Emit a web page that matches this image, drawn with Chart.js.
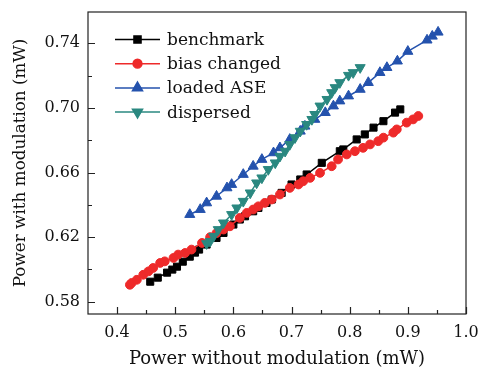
<!DOCTYPE html>
<html>
<head>
<meta charset="utf-8">
<script src="https://cdn.jsdelivr.net/npm/chart.js@4.4.1/dist/chart.umd.min.js"></script>
<style>
  html, body { margin: 0; padding: 0; background: #fff; }
</style>
</head>
<body>
<canvas id="myChart" width="478" height="370"></canvas>
<script>
// values
const benchmarkX = [0.457, 0.470, 0.486, 0.495, 0.503, 0.513, 0.525, 0.534, 0.541, 0.554, 0.571, 0.583, 0.600, 0.611, 0.620, 0.634, 0.643, 0.657, 0.666, 0.683, 0.700, 0.715, 0.726, 0.752, 0.783, 0.789, 0.812, 0.826, 0.841, 0.858, 0.878, 0.887];
const benchmarkY = [0.5924, 0.5949, 0.5980, 0.5999, 0.6017, 0.6048, 0.6079, 0.6104, 0.6123, 0.6154, 0.6195, 0.6226, 0.6278, 0.6309, 0.6329, 0.6360, 0.6381, 0.6412, 0.6433, 0.6474, 0.6526, 0.6557, 0.6588, 0.6660, 0.6732, 0.6743, 0.6805, 0.6836, 0.6878, 0.6918, 0.6971, 0.6991];

const biasX = [0.422, 0.425, 0.434, 0.445, 0.454, 0.462, 0.474, 0.482, 0.497, 0.505, 0.517, 0.528, 0.546, 0.560, 0.571, 0.583, 0.594, 0.611, 0.623, 0.634, 0.643, 0.654, 0.666, 0.680, 0.697, 0.712, 0.720, 0.732, 0.749, 0.769, 0.780, 0.795, 0.809, 0.823, 0.835, 0.849, 0.858, 0.875, 0.881, 0.898, 0.909, 0.918];
const biasY = [0.5905, 0.5916, 0.5936, 0.5967, 0.5988, 0.6009, 0.6040, 0.6050, 0.6071, 0.6092, 0.6102, 0.6123, 0.6164, 0.6200, 0.6225, 0.6247, 0.6267, 0.6319, 0.6350, 0.6371, 0.6391, 0.6412, 0.6433, 0.6464, 0.6505, 0.6526, 0.6546, 0.6567, 0.6598, 0.6639, 0.6681, 0.6712, 0.6732, 0.6753, 0.6774, 0.6794, 0.6816, 0.6847, 0.6867, 0.6909, 0.6929, 0.6950];

const aseX = [0.525, 0.543, 0.554, 0.571, 0.589, 0.597, 0.617, 0.634, 0.649, 0.669, 0.680, 0.697, 0.715, 0.723, 0.740, 0.758, 0.772, 0.783, 0.798, 0.818, 0.832, 0.852, 0.864, 0.882, 0.900, 0.933, 0.942, 0.952];
const aseY = [0.6340, 0.6371, 0.6412, 0.6453, 0.6505, 0.6526, 0.6588, 0.6639, 0.6681, 0.6722, 0.6753, 0.6805, 0.6856, 0.6887, 0.6929, 0.6971, 0.7012, 0.7043, 0.7074, 0.7115, 0.7157, 0.7219, 0.7250, 0.7290, 0.7350, 0.7420, 0.7444, 0.7469];

const dispX = [0.554, 0.560, 0.566, 0.574, 0.583, 0.597, 0.606, 0.617, 0.629, 0.640, 0.649, 0.660, 0.672, 0.680, 0.689, 0.697, 0.706, 0.715, 0.726, 0.735, 0.740, 0.749, 0.761, 0.769, 0.775, 0.783, 0.798, 0.806, 0.818];
const dispY = [0.6160, 0.6174, 0.6205, 0.6247, 0.6288, 0.6340, 0.6381, 0.6422, 0.6474, 0.6536, 0.6567, 0.6619, 0.6660, 0.6701, 0.6732, 0.6774, 0.6816, 0.6856, 0.6898, 0.6929, 0.6960, 0.7012, 0.7053, 0.7095, 0.7126, 0.7157, 0.7202, 0.7219, 0.7250];

const seriesNames = ['benchmark', 'bias changed', 'loaded ASE', 'dispersed'];

const xTicks = [0.4, 0.5, 0.6, 0.7, 0.8, 0.9, 1.0];
const xMinor = [0.45, 0.55, 0.65, 0.75, 0.85, 0.95];
const yTicks = [0.58, 0.62, 0.66, 0.70, 0.74];
const yMinor = [0.60, 0.64, 0.68, 0.72];

const FONT = "'DejaVu Serif', serif";

function pts(xs, ys) {
    return xs.map((v, i) => ({x: v, y: ys[i]}));
}

// frame + inward ticks
const frameTicks = {
    id: 'frameTicks',
    afterDatasetsDraw(chart) {
        const {ctx, chartArea: a, scales: {x, y}} = chart;
        ctx.save();
        ctx.strokeStyle = '#222';
        ctx.lineWidth = 1.2;
        ctx.strokeRect(a.left, a.top, a.right - a.left, a.bottom - a.top);
        ctx.beginPath();
        xTicks.forEach(v => { const p = Math.round(x.getPixelForValue(v)) + 0.5; ctx.moveTo(p, a.bottom); ctx.lineTo(p, a.bottom - 7); });
        xMinor.forEach(v => { const p = Math.round(x.getPixelForValue(v)) + 0.5; ctx.moveTo(p, a.bottom); ctx.lineTo(p, a.bottom - 4); });
        yTicks.forEach(v => { const p = Math.round(y.getPixelForValue(v)) + 0.5; ctx.moveTo(a.left, p); ctx.lineTo(a.left + 7, p); });
        yMinor.forEach(v => { const p = Math.round(y.getPixelForValue(v)) + 0.5; ctx.moveTo(a.left, p); ctx.lineTo(a.left + 4, p); });
        ctx.stroke();
        ctx.restore();
    }
};

// legend drawn inside the plot: line + marker + name
const innerLegend = {
    id: 'innerLegend',
    afterDraw(chart) {
        const ctx = chart.ctx;
        const a = chart.chartArea;
        ctx.save();
        ctx.font = '17px ' + FONT;
        ctx.textBaseline = 'middle';
        chart.data.datasets.forEach((ds, i) => {
            const yy = a.top + 27.5 + i * 24.2;
            const x0 = a.left + 27;
            ctx.strokeStyle = ds.borderColor;
            ctx.lineWidth = 1.5;
            ctx.beginPath();
            ctx.moveTo(x0, yy);
            ctx.lineTo(x0 + 45, yy);
            ctx.stroke();
            ctx.fillStyle = ds.pointBackgroundColor;
            ctx.strokeStyle = ds.pointBorderColor;
            Chart.helpers.drawPoint(ctx, {
                pointStyle: ds.pointStyle,
                radius: ds.pointRadius,
                rotation: ds.pointRotation || 0,
                borderWidth: 1
            }, x0 + 22.5, yy);
            ctx.fillStyle = '#111';
            ctx.fillText(ds.label, x0 + 52, yy + 1);
        });
        ctx.restore();
    }
};

function series(label, data, color, style, radius, rot, order) {
    return {
        label: label,
        data: data,
        borderColor: color,
        backgroundColor: color,
        pointBackgroundColor: color,
        pointBorderColor: color,
        pointStyle: style,
        pointRadius: radius,
        pointRotation: rot,
        pointBorderWidth: 1,
        borderWidth: 1.5,
        showLine: true,
        tension: 0,
        order: order
    };
}

const ctx = document.getElementById('myChart').getContext('2d');
const chart = new Chart(ctx, {
    type: 'scatter',
    data: {
        datasets: [
            series(seriesNames[0], pts(benchmarkX, benchmarkY), '#000000', 'rect', 5, 0, 3),
            series(seriesNames[1], pts(biasX, biasY), '#ee2a2a', 'circle', 4.4, 0, 2),
            series(seriesNames[2], pts(aseX, aseY), '#2452ad', 'triangle', 5.8, 0, 1),
            series(seriesNames[3], pts(dispX, dispY), '#2a8880', 'triangle', 5.8, 180, 0)
        ]
    },
    options: {
        responsive: false,
        animation: false,
        layout: { padding: { top: 12, right: 12, left: 0, bottom: 0 } },
        plugins: { legend: { display: false }, tooltip: { enabled: false } },
        scales: {
            x: {
                type: 'linear',
                min: 0.35,
                max: 1.0,
                afterBuildTicks: s => { s.ticks = xTicks.map(v => ({value: v})); },
                afterFit: s => { s.height = 56; s.paddingLeft = 0; s.paddingRight = 0; },
                grid: { display: false, drawTicks: false },
                border: { display: false },
                ticks: {
                    padding: 9,
                    color: '#111',
                    font: { family: FONT, size: 16 },
                    callback: v => v.toFixed(1)
                },
                title: {
                    display: true,
                    text: 'Power without modulation (mW)',
                    color: '#111',
                    font: { family: FONT, size: 18 },
                    padding: { top: 0, bottom: 0 }
                }
            },
            y: {
                type: 'linear',
                min: 0.5724,
                max: 0.7594,
                afterBuildTicks: s => { s.ticks = yTicks.map(v => ({value: v})); },
                afterFit: s => { s.width = 88; s.paddingTop = 0; s.paddingBottom = 0; },
                grid: { display: false, drawTicks: false },
                border: { display: false },
                ticks: {
                    padding: 8,
                    color: '#111',
                    font: { family: FONT, size: 16 },
                    callback: v => v.toFixed(2)
                },
                title: {
                    display: true,
                    text: 'Power with modulation (mW)',
                    color: '#111',
                    font: { family: FONT, size: 16.8 },
                    padding: { top: 11, bottom: 0 }
                }
            }
        }
    },
    plugins: [frameTicks, innerLegend]
});
</script>
</body>
</html>
